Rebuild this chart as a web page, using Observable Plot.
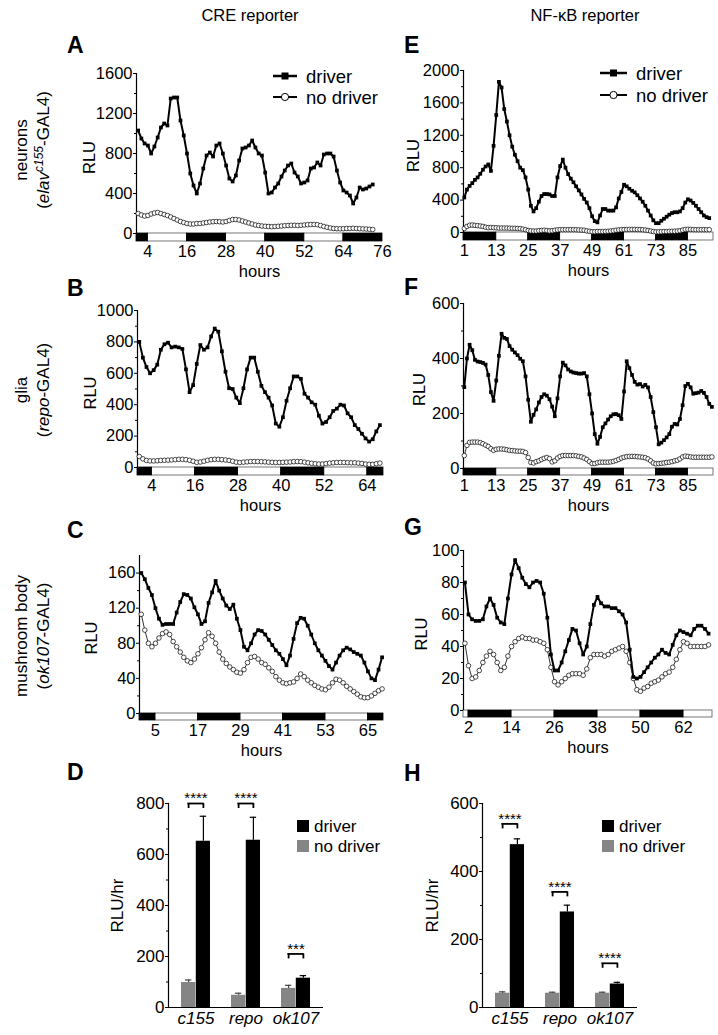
<!DOCTYPE html>
<html><head><meta charset="utf-8">
<script src="https://cdn.jsdelivr.net/npm/d3@7"></script>
<script src="https://cdn.jsdelivr.net/npm/@observablehq/plot@0.6"></script>
<style>
body{margin:0;background:#fff;}
#fig{position:relative;width:718px;height:1035px;overflow:hidden;background:#fff;font-family:"Liberation Sans",Arial,Helvetica,sans-serif;color:#000;}
#fig svg{position:absolute;overflow:visible;}
</style></head>
<body><div id="fig"></div>
<script>
// ---------------- DATA ----------------
// A: CRE reporter, neurons (hourly from hour 1)
const aDriver = [1030,950,900,880,800,870,960,1060,1100,1080,1350,1360,1360,1130,980,800,600,480,400,500,650,780,810,770,880,900,800,680,550,520,580,730,850,860,880,930,860,800,780,610,400,410,460,500,570,630,680,700,610,570,500,510,530,650,660,710,680,790,800,800,770,630,510,430,410,380,300,360,460,440,450,470,490];
const aNoDriver = [200,185,175,180,195,205,210,200,190,180,165,150,135,120,110,100,95,95,100,100,105,110,115,118,120,118,115,120,130,140,140,135,125,115,105,95,85,80,75,72,70,68,70,72,75,78,80,82,82,80,82,85,88,90,90,88,80,70,62,55,50,48,47,48,50,50,52,50,48,46,45,42,40];
// B: CRE reporter, glia (from hour 0.5)
const bDriver = [800,700,640,600,620,655,750,785,795,765,770,765,755,625,480,525,660,780,750,765,835,885,865,740,610,505,500,445,410,505,625,700,700,610,520,480,445,395,280,260,320,425,505,580,580,565,470,445,415,400,330,280,290,320,360,375,400,395,345,320,270,245,215,185,165,180,230,270];
const bNoDriver = [70,55,45,42,42,43,45,46,47,48,50,52,52,50,46,40,33,35,40,46,50,52,52,50,48,45,40,34,32,34,36,38,38,38,37,36,34,33,32,32,33,34,35,37,38,37,34,30,27,24,22,22,25,28,30,32,32,32,31,30,30,28,26,22,20,20,24,28];
// C: CRE reporter, mushroom body (from hour 1)
const cDriver = [160,153,143,135,120,108,101,102,102,102,115,127,136,135,131,121,113,102,105,126,138,151,140,131,123,119,124,108,95,76,72,80,90,95,94,90,84,78,72,68,62,55,66,85,103,109,108,100,90,80,72,66,60,54,50,58,66,72,75,73,70,68,66,58,48,40,38,50,64];
const cNoDriver = [113,95,80,76,80,86,91,93,90,82,76,70,64,60,58,62,68,75,84,92,88,80,70,62,57,53,50,47,46,50,58,64,65,62,58,56,52,48,42,38,35,34,35,36,40,45,42,38,35,32,30,28,27,30,35,39,38,35,31,28,25,22,19,18,18,20,23,26,28];
// E: NF-kB reporter, neurons (from hour 1)
const eDriver = [432,530,575,610,650,680,725,775,815,840,760,1070,1450,1860,1790,1525,1370,1200,1060,960,880,800,770,680,530,330,260,300,380,450,475,475,470,450,450,680,820,900,800,720,665,620,570,520,470,415,370,300,200,140,125,210,290,290,270,270,270,310,420,500,590,570,540,515,495,460,420,380,330,270,210,150,115,115,145,170,195,220,240,250,250,260,300,370,410,395,365,330,290,250,210,190,178];
const eNoDriver = [50,75,90,92,88,85,80,75,65,60,62,60,58,55,55,55,55,53,52,52,50,48,42,35,25,20,18,18,22,25,28,25,20,22,28,32,35,35,35,35,35,35,34,32,30,28,20,15,10,10,12,12,12,14,15,18,22,28,32,35,36,37,38,38,38,37,36,34,30,25,18,12,8,8,10,12,12,14,15,16,18,22,30,38,40,38,36,35,35,35,35,35,35];
// F: NF-kB reporter, glia (from hour 1)
const fDriver = [296,400,450,430,395,389,387,384,378,340,278,246,320,410,490,475,471,445,432,422,412,399,390,335,250,170,195,215,240,260,270,265,252,225,190,255,335,385,375,360,353,349,347,345,345,347,335,270,200,125,90,115,150,164,178,190,197,198,194,180,280,390,365,340,315,305,307,298,304,295,260,205,150,88,94,103,113,125,152,162,160,180,230,300,308,295,272,274,276,282,275,260,235,224];
const fNoDriver = [47,84,95,96,96,96,94,90,85,80,72,66,70,71,71,70,68,66,65,64,63,63,62,58,40,22,20,25,28,33,37,40,36,24,28,38,44,47,47,47,47,47,46,44,42,38,33,25,18,18,21,23,23,23,23,24,26,29,33,38,41,43,44,44,44,43,42,41,39,35,28,20,17,18,19,20,22,23,25,28,30,35,42,45,44,42,41,41,41,41,41,41,41,42];
// G: NF-kB reporter, mushroom body (from hour 1)
const gDriver = [80,60,57,56,56,57,65,70,66,58,55,54,70,85,94,89,83,79,77,80,81,80,73,58,35,25,25,30,37,44,51,50,42,35,40,54,66,71,67,65,65,64,64,62,60,55,38,21,20,21,24,27,30,33,35,38,36,35,41,47,50,49,48,47,51,53,53,51,48];
const gNoDriver = [42,28,20,21,25,30,34,37,35,30,25,27,34,40,43,45,46,45,45,44,44,43,42,38,27,18,16,18,20,22,23,23,23,22,26,33,35,35,35,34,35,37,38,39,40,37,30,20,13,12,14,15,17,18,19,21,23,24,27,32,38,43,42,40,40,40,40,40,41];

// Light/dark phase boundaries (hours) and tick labels
const aLD = [0.5,4,16,28,40,52,64,76];        const aTicks = [4,16,28,40,52,64,76];
const bLD = [0,4,16,28,40,52,64,68.5];        const bTicks = [4,16,28,40,52,64];
const cLD = [0.5,5,17,29,41,53,65,69.4];      const cTicks = [5,17,29,41,53,65];
const eLD = [0.7,13,25,37,49,61,73,85,94.6];  const eTicks = [1,13,25,37,49,61,73,85];
const fLD = [0.7,13,25,37,49,61,73,85,94.6];  const fTicks = [1,13,25,37,49,61,73,85];
const gLD = [0.6,2,14,26,38,50,62,70.1];      const gTicks = [2,14,26,38,50,62];

// Bar charts (RLU/hr)
const lines = ["c155","repo","ok107"];
const dNoDriver = [98,48,75];   const dNoDriverErr = [10,8,12];
const dDriver = [652,656,115];  const dDriverErr = [98,90,10];
const dStars = ["****","****","***"]; const dStarY = [800,800,210];
const hNoDriver = [42,42,42];   const hNoDriverErr = [4,3,3];
const hDriver = [479,281,69];   const hDriverErr = [17,20,5];
const hStars = ["****","****","****"]; const hStarY = [540,340,130];

// ---------------- DRAWING ----------------
const FONT = '"Liberation Sans", Arial, Helvetica, sans-serif';
const fig = document.getElementById("fig");
const fmt = d => String(d);
function place(svg, left, top) { svg.style.left = left + "px"; svg.style.top = top + "px"; fig.appendChild(svg); }
function series(start, values) { return values.map((v, i) => ({h: start + i, v})); }
function ldSegments(bounds, firstDark) {
  return bounds.slice(0, -1).map((b, i) => ({x1: b, x2: bounds[i + 1], dark: (i % 2 === 0) === firstDark}));
}
function midTicks(t) { return t.slice(0, -1).map((v, i) => (v + t[i + 1]) / 2); }

function tsPanel(L, D) {
  const mL = 72, mR = 16, mT = 14, mB = 46;
  const fw = L.endX - L.axisX, fh = L.bottomY - L.topY;
  const pxu = (L.zeroY - L.topY) / D.yMax;
  const yLow = -(L.bottomY - L.zeroY) / pxu;
  const segs = ldSegments(D.ld, D.firstDark);
  const dr = series(D.start, D.driver), nd = series(D.start, D.noDriver);
  const svg = Plot.plot({
    width: mL + fw + mR, height: mT + fh + mB,
    marginLeft: mL, marginRight: mR, marginTop: mT, marginBottom: mB,
    style: {fontFamily: FONT, fontSize: "16.5px", color: "black", background: "transparent", overflow: "visible"},
    x: {domain: [D.ld[0], D.ld[D.ld.length - 1]]},
    y: {domain: [yLow, D.yMax]},
    marks: [
      Plot.rect(segs.filter(d => !d.dark), {x1: "x1", x2: "x2", y1: yLow, y2: 0, fill: "white", stroke: "#555", strokeWidth: 0.8}),
      Plot.rect(segs.filter(d => d.dark), {x1: "x1", x2: "x2", y1: yLow, y2: 0, fill: "black", stroke: "black", strokeWidth: 0.8}),
      Plot.ruleX([D.ld[0]], {y1: 0, y2: D.yMax, stroke: "black", strokeWidth: 1.2}),
      Plot.axisY({ticks: D.yTicks, tickFormat: fmt, tickSize: 3, tickPadding: 1, label: "RLU", labelAnchor: "center", labelArrow: "none", labelOffset: L.rlu}),
      Plot.axisY({ticks: midTicks(D.yTicks), tickSize: 2, tickFormat: () => "", label: null}),
      Plot.axisX({ticks: D.xTicks, tickFormat: fmt, tickSize: 0, tickPadding: 4, label: "hours", labelAnchor: "center", labelArrow: "none", labelOffset: 35}),
      Plot.line(nd, {x: "h", y: "v", stroke: "black", strokeWidth: 0.8}),
      Plot.dot(nd, {x: "h", y: "v", r: 2.3, fill: "white", stroke: "black", strokeWidth: 0.7}),
      Plot.line(dr, {x: "h", y: "v", stroke: "black", strokeWidth: 2}),
      Plot.dot(dr, {x: "h", y: "v", symbol: "square", r: 2.1, fill: "black"})
    ]
  });
  place(svg, L.axisX - mL, L.topY - mT);
}

function barPanel(L, D) {
  const mL = 72, mR = 16, mT = 14, mB = 30;
  const fw = L.endX - L.axisX, fh = L.zeroY - L.topY;
  const pi = 0.42, po = 0.23, n = D.cats.length;
  const bw = fw * (1 - pi) / (n - pi + 2 * po);
  const pxu = fh / D.yMax;
  const cap = 7, drop = 5;
  const rows = D.cats.map((c, i) => ({
    cat: c, nd: D.nd[i], ndHi: D.nd[i] + D.ndErr[i], dr: D.dr[i], drHi: D.dr[i] + D.drErr[i],
    stars: D.stars[i], sy: D.starY[i], sLow: D.starY[i] - drop / pxu
  }));
  const svg = Plot.plot({
    width: mL + fw + mR, height: mT + fh + mB,
    marginLeft: mL, marginRight: mR, marginTop: mT, marginBottom: mB,
    style: {fontFamily: FONT, fontSize: "17px", color: "black", background: "transparent", overflow: "visible"},
    x: {domain: D.cats, paddingInner: pi, paddingOuter: po},
    y: {domain: [0, D.yMax]},
    marks: [
      Plot.barY(rows, {x: "cat", y: "nd", fill: "#858585", insetRight: bw / 2, insetLeft: 0}),
      Plot.barY(rows, {x: "cat", y: "dr", fill: "black", insetLeft: bw / 2, insetRight: 0}),
      Plot.ruleX(rows, {x: "cat", y1: "nd", y2: "ndHi", dx: -bw / 4, stroke: "#444", strokeWidth: 1.2}),
      Plot.tickY(rows, {x: "cat", y: "ndHi", insetLeft: bw / 4 - cap / 2, insetRight: 3 * bw / 4 - cap / 2, stroke: "#444", strokeWidth: 1.2}),
      Plot.ruleX(rows, {x: "cat", y1: "dr", y2: "drHi", dx: bw / 4, stroke: "black", strokeWidth: 1.2}),
      Plot.tickY(rows, {x: "cat", y: "drHi", insetLeft: 3 * bw / 4 - cap / 2, insetRight: bw / 4 - cap / 2, stroke: "black", strokeWidth: 1.2}),
      Plot.tickY(rows, {x: "cat", y: "sy", insetLeft: bw / 4 - 1, insetRight: bw / 4 - 1, stroke: "black", strokeWidth: 1.8}),
      Plot.ruleX(rows, {x: "cat", y1: "sLow", y2: "sy", dx: -bw / 4, stroke: "black", strokeWidth: 1.8}),
      Plot.ruleX(rows, {x: "cat", y1: "sLow", y2: "sy", dx: bw / 4, stroke: "black", strokeWidth: 1.8}),
      Plot.text(rows, {x: "cat", y: "sy", text: "stars", dy: -5, fontSize: 15}),
      Plot.ruleY([0], {stroke: "black", strokeWidth: 1.2}),
      Plot.frame({anchor: "left", stroke: "black", strokeWidth: 1.2}),
      Plot.axisY({ticks: D.yTicks, tickFormat: fmt, tickSize: 3, tickPadding: 1, label: "RLU/hr", labelAnchor: "center", labelArrow: "none", labelOffset: L.rlu}),
      Plot.axisY({ticks: midTicks(D.yTicks), tickSize: 2, tickFormat: () => "", label: null}),
      Plot.axisX({tickSize: 0, tickPadding: 4, label: null, fontStyle: "italic", fontSize: 17})
    ]
  });
  svg.querySelectorAll('[aria-label="x-axis tick label"] text').forEach(t => t.setAttribute("font-style", "italic"));
  place(svg, L.axisX - mL, L.topY - mT);
}

// Layout (pixel positions of each panel's frame)
tsPanel({axisX: 136, endX: 382, topY: 73, zeroY: 233, bottomY: 241, rlu: 53},
        {start: 1, driver: aDriver, noDriver: aNoDriver, yMax: 1600, yTicks: [0,400,800,1200,1600], ld: aLD, firstDark: true, xTicks: aTicks});
tsPanel({axisX: 137, endX: 383, topY: 310, zeroY: 467, bottomY: 475, rlu: 53},
        {start: 0.5, driver: bDriver, noDriver: bNoDriver, yMax: 1000, yTicks: [0,200,400,600,800,1000], ld: bLD, firstDark: true, xTicks: bTicks});
tsPanel({axisX: 139, endX: 383, topY: 555, zeroY: 713, bottomY: 720, rlu: 54},
        {start: 1, driver: cDriver, noDriver: cNoDriver, yMax: 180, yTicks: [0,40,80,120,160], ld: cLD, firstDark: true, xTicks: cTicks});
tsPanel({axisX: 463, endX: 713, topY: 70, zeroY: 232, bottomY: 240, rlu: 56},
        {start: 1, driver: eDriver, noDriver: eNoDriver, yMax: 2000, yTicks: [0,400,800,1200,1600,2000], ld: eLD, firstDark: true, xTicks: eTicks});
tsPanel({axisX: 463, endX: 713, topY: 303, zeroY: 468, bottomY: 475, rlu: 50},
        {start: 1, driver: fDriver, noDriver: fNoDriver, yMax: 600, yTicks: [0,200,400,600], ld: fLD, firstDark: true, xTicks: fTicks});
tsPanel({axisX: 463, endX: 712, topY: 550, zeroY: 710, bottomY: 717, rlu: 48},
        {start: 1, driver: gDriver, noDriver: gNoDriver, yMax: 100, yTicks: [0,20,40,60,80,100], ld: gLD, firstDark: false, xTicks: gTicks});
barPanel({axisX: 168, endX: 323, topY: 803, zeroY: 1007, rlu: 58},
         {cats: lines, nd: dNoDriver, ndErr: dNoDriverErr, dr: dDriver, drErr: dDriverErr, stars: dStars, starY: dStarY, yMax: 800, yTicks: [0,200,400,600,800]});
barPanel({axisX: 482, endX: 637, topY: 803, zeroY: 1007, rlu: 57},
         {cats: lines, nd: hNoDriver, ndErr: hNoDriverErr, dr: hDriver, drErr: hDriverErr, stars: hStars, starY: hStarY, yMax: 600, yTicks: [0,200,400,600]});

// ---------------- ANNOTATIONS ----------------
const ns = "http://www.w3.org/2000/svg";
const ov = document.createElementNS(ns, "svg");
ov.setAttribute("width", 718); ov.setAttribute("height", 1035);
ov.setAttribute("font-family", FONT);
ov.innerHTML = `
<text x="250" y="21" font-size="16.5" text-anchor="middle">CRE reporter</text>
<text x="585" y="21" font-size="16.5" text-anchor="middle">NF-κB reporter</text>
<g font-size="23" font-weight="bold">
  <text x="67" y="53">A</text><text x="67" y="296">B</text><text x="67" y="538">C</text><text x="67" y="780">D</text>
  <text x="404" y="53">E</text><text x="404" y="295">F</text><text x="404" y="535">G</text><text x="404" y="781">H</text>
</g>
<g font-size="17" text-anchor="middle">
  <text transform="translate(27,150) rotate(-90)"><tspan x="0" y="0">neurons</tspan><tspan x="0" y="22">(<tspan font-style="italic">elav</tspan><tspan font-style="italic" font-size="12" dy="-6">c155</tspan><tspan dy="6">-GAL4)</tspan></tspan></text>
  <text transform="translate(27,390) rotate(-90)"><tspan x="0" y="0">glia</tspan><tspan x="0" y="22">(<tspan font-style="italic">repo</tspan>-GAL4)</tspan></text>
  <text transform="translate(27,636) rotate(-90)"><tspan x="0" y="0">mushroom body</tspan><tspan x="0" y="22">(<tspan font-style="italic">ok107</tspan>-GAL4)</tspan></text>
</g>
<g font-size="18.5">
  <line x1="273" x2="297" y1="76" y2="76" stroke="black" stroke-width="2.5"/>
  <rect x="281.5" y="72.5" width="7" height="7" fill="black"/>
  <text x="306" y="82.5">driver</text>
  <line x1="273" x2="297" y1="97" y2="97" stroke="black" stroke-width="2"/>
  <circle cx="285" cy="97" r="3.6" fill="white" stroke="black" stroke-width="1"/>
  <text x="306" y="103.5">no driver</text>
  <line x1="600" x2="627" y1="73" y2="73" stroke="black" stroke-width="2.5"/>
  <rect x="610" y="69.5" width="7" height="7" fill="black"/>
  <text x="636" y="79.5">driver</text>
  <line x1="600" x2="627" y1="95" y2="95" stroke="black" stroke-width="2"/>
  <circle cx="613.5" cy="95" r="3.6" fill="white" stroke="black" stroke-width="1"/>
  <text x="636" y="101.5">no driver</text>
</g>
<g font-size="17">
  <rect x="297" y="820" width="12" height="12" fill="black"/><text x="314" y="832">driver</text>
  <rect x="297" y="840" width="12" height="12" fill="#858585"/><text x="314" y="852">no driver</text>
  <rect x="602" y="820" width="12" height="12" fill="black"/><text x="619" y="832">driver</text>
  <rect x="602" y="840" width="12" height="12" fill="#858585"/><text x="619" y="852">no driver</text>
</g>`;
ov.style.left = "0px"; ov.style.top = "0px";
fig.appendChild(ov);
</script>
</body></html>
